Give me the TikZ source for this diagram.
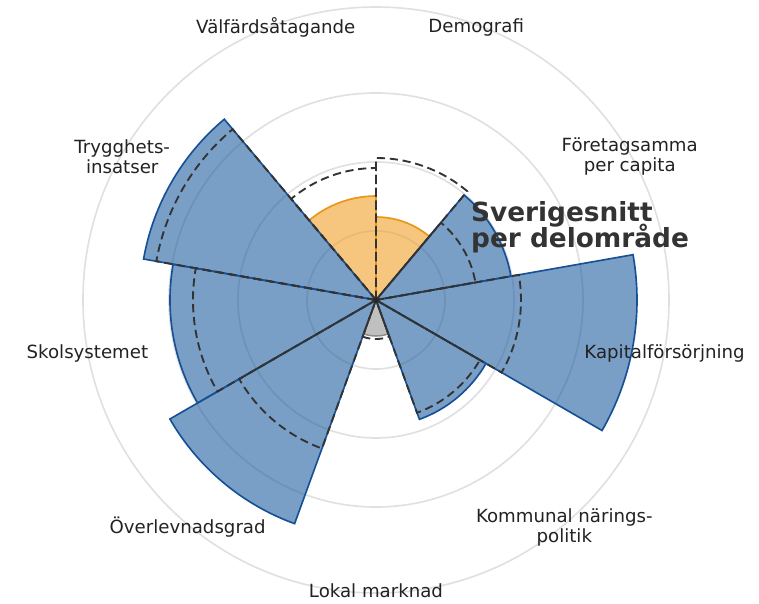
\documentclass[tikz,border=0pt]{standalone}
\usepackage{fontspec}
\setmainfont{DejaVu Sans}
\pgfdeclarelayer{background}
\pgfdeclarelayer{foreground}
\pgfsetlayers{background,main,foreground}
\definecolor{barblue}{RGB}{31,95,160}
\definecolor{edgeblue}{RGB}{22,80,150}
\definecolor{barorange}{RGB}{240,160,40}
\definecolor{edgeorange}{RGB}{232,150,20}
\definecolor{bargray}{RGB}{150,150,150}
\definecolor{txtgray}{RGB}{34,34,34}
\tikzstyle{ring}=[draw=black!12, line width=1.4pt]
\tikzstyle{bluebar}=[fill=barblue, fill opacity=0.6, draw=edgeblue, line width=1.4pt]
\tikzstyle{orangebar}=[fill=barorange, fill opacity=0.6, draw=edgeorange, line width=1.4pt]
\tikzstyle{graybar}=[fill=bargray, fill opacity=0.6, draw=black!45, line width=1.3pt]
\tikzstyle{avg}=[draw=black!80, dash pattern=on 7pt off 4pt, line width=1.6pt]
\tikzstyle{axislabel}=[text=txtgray, align=center, yshift=-2.6pt,
	font=\fontsize{15.5pt}{17pt}\selectfont]
\tikzstyle{titel}=[text=black!80, align=left, anchor=west,
	font=\fontsize{22.5pt}{21pt}\selectfont\bfseries]
% one bar of the rose: start, end, value, average, style
\newcommand{\petal}[5]{%
	\path[#5] (0,0) -- (#1:#3) arc[start angle=#1, end angle=#2, radius=#3] -- cycle;
	\begin{pgfonlayer}{foreground}
		% dashed outline for the average
		\path[avg] (0,0) -- (#1:#4) arc[start angle=#1, end angle=#2, radius=#4] -- cycle;
	\end{pgfonlayer}}

\begin{document}
\begin{tikzpicture}[x=0.03cm, y=0.03cm]
	\useasboundingbox (-376,-303) rectangle (383,300);
	
	% Grid rings
	\begin{pgfonlayer}{background}
		\foreach \r in {69,138,207,293}
			\path[ring] (0,0) circle[radius=\r];
	\end{pgfonlayer}
	
	% Bars
	\petal{50}{90}{83}{142}{orangebar}
	\petal{90}{130}{104}{132}{orangebar}
	\petal{130}{170}{236}{223}{bluebar}
	\petal{170}{210}{206}{183}{bluebar}
	\petal{210}{250}{238}{158}{bluebar}
	\petal{250}{290}{36}{39}{graybar}
	\petal{290}{330}{127}{120}{bluebar}
	\petal{330}{370}{261}{145}{bluebar}
	\petal{10}{50}{137}{101}{bluebar}
	
	\begin{pgfonlayer}{foreground}
		\fill[black!85] (0,0) circle[radius=2.5];
	\end{pgfonlayer}
	
	% Labels
	\path (70:293) node (l1) [axislabel] {Demografi};
	\path (110:293) node (l2) [axislabel] {Välfärdsåtagande};
	\path (150:293) node (l3) [axislabel] {Trygghets-\\insatser};
	\path (190:293) node (l4) [axislabel] {Skolsystemet};
	\path (230:293) node (l5) [axislabel] {Överlevnadsgrad};
	\path (270:293) node (l6) [axislabel, yshift=4.6pt, inner sep=0.5pt] {Lokal marknad};
	\path (310:293) node (l7) [axislabel] {Kommunal närings-\\politik};
	\path (350:293) node (l8) [axislabel] {Kapitalförsörjning};
	\path (30:293) node (l9) [axislabel] {Företagsamma\\per capita};
	
	\path (91,73) node (t1) [titel] {Sverigesnitt\\[-3.5pt]per delområde};
	
\end{tikzpicture}
\end{document}
